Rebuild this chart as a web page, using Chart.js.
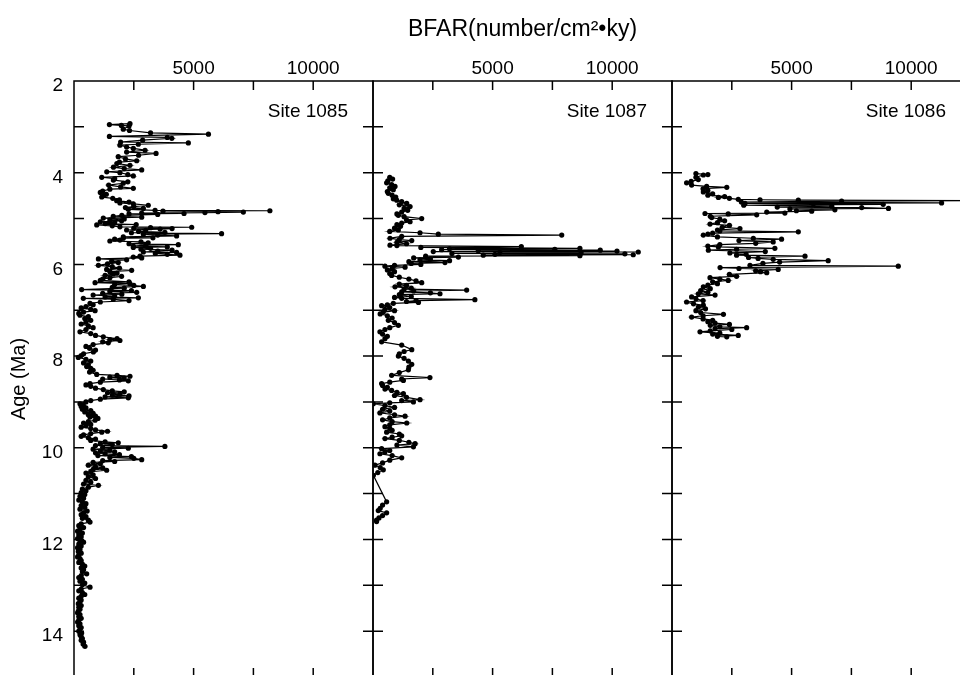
<!DOCTYPE html>
<html>
<head>
<meta charset="utf-8">
<title>BFAR by site</title>
<script src="https://cdn.jsdelivr.net/npm/chart.js@4.4.0/dist/chart.umd.min.js"></script>
<style>
  html, body { margin: 0; padding: 0; background: #fff; overflow: hidden; }
  body { width: 960px; height: 675px; position: relative; }
  canvas { position: absolute; top: 0; }
</style>
</head>
<body>
<canvas id="chart1085" width="380" height="690" style="left:0px"></canvas>
<canvas id="chart1087" width="313" height="690" style="left:366px"></canvas>
<canvas id="chart1086" width="313" height="690" style="left:665px"></canvas>
<script>
// axis ranges and labelled ticks
const ageMin = 2, ageMax = 15;
const ageLabels = [2, 4, 6, 8, 10, 12, 14];
const bfarMin = 0, bfarMax = 12500;
const bfarLabels = [5000, 10000];
const siteNames = ["Site 1085", "Site 1087", "Site 1086"];

// Site 1085
const ages1085 = [
  2.93, 2.95, 2.97, 2.98, 3.05, 3.08, 3.13, 3.16, 3.21, 3.23,
  3.25, 3.29, 3.33, 3.35, 3.38, 3.40, 3.44, 3.47, 3.51, 3.55,
  3.58, 3.62, 3.65, 3.70, 3.74, 3.77, 3.80, 3.84, 3.88, 3.91,
  3.94, 3.98, 4.00, 4.04, 4.07,
  4.10, 4.13, 4.16, 4.20, 4.23, 4.27, 4.31, 4.34, 4.36, 4.40,
  4.43, 4.47, 4.50, 4.53, 4.56, 4.59, 4.61, 4.64, 4.66, 4.68,
  4.71, 4.74, 4.76, 4.78, 4.80,
  4.82, 4.83, 4.84, 4.85, 4.86, 4.87, 4.88, 4.89, 4.90, 4.91,
  4.93, 4.95, 4.97, 4.99, 5.01, 5.03, 5.05, 5.07, 5.09, 5.11,
  5.13, 5.14, 5.16, 5.18,
  5.19, 5.20, 5.21, 5.22, 5.23, 5.25, 5.26, 5.28, 5.30, 5.31,
  5.33, 5.34, 5.36, 5.38, 5.40, 5.42, 5.43, 5.45, 5.47, 5.49,
  5.51, 5.53, 5.55, 5.57, 5.58, 5.60, 5.62, 5.63, 5.65, 5.67,
  5.69, 5.71, 5.73, 5.74, 5.76, 5.78, 5.80, 5.82, 5.84, 5.86,
  5.88, 5.90,
  5.93, 5.96, 5.99, 6.02, 6.05, 6.08, 6.11, 6.13, 6.16, 6.19,
  6.21, 6.24, 6.26, 6.29, 6.32, 6.35, 6.38, 6.40, 6.42, 6.44,
  6.46, 6.48, 6.50, 6.52, 6.55, 6.57, 6.59, 6.61, 6.63, 6.65,
  6.67, 6.69, 6.71, 6.73, 6.74, 6.76, 6.79, 6.82, 6.85, 6.88,
  6.92, 6.95, 6.98, 7.01, 7.04, 7.07, 7.11, 7.14, 7.18, 7.22,
  7.26, 7.30, 7.34, 7.38, 7.42, 7.47, 7.51, 7.55, 7.58, 7.62,
  7.64, 7.66, 7.69, 7.71, 7.75, 7.79, 7.83, 7.87, 7.91, 7.95,
  7.99, 8.03,
  8.07, 8.11, 8.15, 8.19, 8.23, 8.27, 8.31, 8.35, 8.40, 8.42,
  8.44, 8.46, 8.48, 8.50, 8.52, 8.54, 8.57, 8.60, 8.63, 8.66,
  8.70, 8.73, 8.76, 8.78, 8.80, 8.83, 8.85, 8.87, 8.89, 8.91,
  8.94, 8.97, 9.00, 9.04, 9.07,
  9.10, 9.13, 9.16, 9.19, 9.22, 9.25, 9.28, 9.31, 9.33, 9.36,
  9.40, 9.43, 9.46, 9.49, 9.52, 9.55, 9.58, 9.61, 9.64, 9.66,
  9.69, 9.72, 9.75, 9.78, 9.81, 9.84, 9.87, 9.89, 9.91, 9.93,
  9.95, 9.97, 9.99, 10.01, 10.03, 10.05, 10.07, 10.09, 10.11, 10.13,
  10.15, 10.17, 10.19, 10.21, 10.23, 10.26, 10.28, 10.30, 10.32, 10.35,
  10.38, 10.41, 10.44, 10.47, 10.49, 10.52, 10.55,
  10.59, 10.63, 10.67, 10.71, 10.75, 10.79, 10.82, 10.86, 10.90, 10.94,
  10.98, 11.02, 11.06, 11.10, 11.14, 11.18, 11.22, 11.26, 11.30, 11.34,
  11.38, 11.42, 11.46, 11.50, 11.54, 11.58, 11.62, 11.66, 11.70, 11.74,
  11.78, 11.82, 11.86, 11.90, 11.94, 11.98, 12.02, 12.06, 12.10, 12.14,
  12.18, 12.22, 12.26, 12.30, 12.34, 12.38, 12.42, 12.46, 12.50, 12.54,
  12.58, 12.62, 12.66, 12.70, 12.75, 12.79, 12.83, 12.87, 12.91, 12.95,
  12.99, 13.04, 13.08, 13.12, 13.16, 13.20, 13.24, 13.28, 13.32, 13.36,
  13.40, 13.44, 13.48, 13.52, 13.56, 13.60, 13.64, 13.68, 13.72, 13.76,
  13.80, 13.84, 13.88, 13.92, 13.96, 14.00, 14.04, 14.08, 14.12, 14.16,
  14.20, 14.24, 14.28, 14.33
];
const bfar1085 = [
  2340, 1480, 1980, 2300, 2060, 2320, 3200, 5620, 1480, 3900,
  4090, 2870, 1950, 4780, 2690, 1920, 2200, 2480, 2970, 2200,
  3430, 2700, 1850, 2150, 2620, 1900, 1790, 2340, 1650, 2100,
  2830, 1370, 1920, 2250, 2480,
  1160, 1700, 1645, 2250, 2060, 1450, 1950, 2480, 1500, 1200,
  1100, 1350, 1250, 1160, 1620, 1900, 1785, 2300, 1920, 2480,
  3105, 2500, 2150, 2900, 2270,
  3390, 8190, 3720, 6020, 7080, 5475, 2830, 4600, 2300, 3500,
  2000, 1640, 2830, 1225, 2100, 1500, 1990, 1100, 1700, 1300,
  2600, 950, 1600, 1920,
  4920, 3200, 2500, 4100, 3600, 2200, 3000, 2700, 3800, 2400,
  6170, 2900, 3500, 4290, 2060, 3300, 2060, 1700, 1920, 1500,
  2800, 3100, 2300, 4360, 3000, 2480, 3900, 2480, 3200, 2800,
  4100, 3500, 2900, 4290, 3400, 3900, 4430, 2760, 2480, 2830,
  1020, 2200,
  1575, 1850, 1400, 1020, 1600, 1900, 1365, 2410, 1500, 1800,
  1645, 1300, 1990, 1500, 1200, 1100, 2300, 880, 2340, 1700,
  2500, 2900, 1600, 2100, 320, 2400, 1500, 2620, 1200, 2000,
  800, 1700, 1300, 2690, 390, 1645, 2300, 1100, 670, 800,
  500, 300, 700, 880, 400, 200, 250, 600, 450, 700,
  500, 300, 600, 800, 500, 250, 700, 900, 1225, 1800,
  1500, 1920, 1200, 1435, 800, 500, 650, 900, 810, 400,
  300, 180,
  500, 700, 400, 600, 530, 700, 800, 650, 950, 1800,
  2340, 1500, 2100, 1200, 1900, 2270, 1100, 670, 500, 700,
  900, 1225, 1600, 2100, 1400, 1920, 1600, 2300, 1300, 2270,
  1100, 700, 500, 250, 390,
  300, 500, 350, 700, 450, 800, 600, 900, 670, 1000,
  880, 600, 400, 700, 500, 300, 700, 900, 1400, 1160,
  700, 400, 300, 600, 900, 700, 1300, 1850, 1100, 1600,
  900, 3800, 1200, 2270, 800, 1500, 1100, 1700, 900, 1300,
  1900, 1000, 2400, 1500, 2500, 2830, 1200, 1700, 800, 1100,
  600, 900, 1200, 800, 1365, 700, 500,
  800, 600, 900, 500, 700, 400, 1020, 600, 350, 500,
  300, 450, 250, 400, 200, 350, 500, 300, 450, 250,
  550, 400, 300, 500, 350, 600, 670, 300, 200, 400,
  250, 150, 350, 200, 300, 150, 250, 400, 200, 300,
  150, 250, 180, 300, 200, 150, 250, 300, 200, 350,
  450, 300, 400, 350, 530, 300, 200, 350, 250, 450,
  350, 670, 300, 200, 350, 450, 300, 200, 300, 250,
  180, 300, 200, 250, 180, 150, 250, 200, 300, 200,
  150, 250, 200, 300, 250, 200, 320, 250, 300, 350,
  300, 400, 380, 460
];

// Site 1087
const ages1087 = [
  4.10, 4.14, 4.18, 4.22, 4.26, 4.30, 4.33, 4.37, 4.41, 4.45,
  4.49, 4.53, 4.57, 4.60, 4.63, 4.67, 4.70, 4.74, 4.78, 4.82,
  4.86, 4.90, 4.93, 4.96, 5.00, 5.03, 5.07, 5.10, 5.13, 5.17,
  5.21, 5.25, 5.28, 5.31, 5.34, 5.36, 5.39, 5.43, 5.46, 5.48,
  5.52, 5.55, 5.58, 5.59, 5.61, 5.63, 5.65, 5.66, 5.67, 5.68,
  5.69, 5.70, 5.71, 5.72, 5.73, 5.74, 5.75, 5.76, 5.77, 5.78,
  5.79, 5.80, 5.81, 5.82, 5.84, 5.86, 5.88, 5.90, 5.92, 5.94,
  5.96, 5.98, 6.00, 6.02, 6.04, 6.06, 6.09, 6.12, 6.16, 6.20,
  6.24, 6.28, 6.32, 6.36, 6.40, 6.43, 6.46, 6.49, 6.52, 6.54,
  6.56, 6.58, 6.60, 6.62, 6.64, 6.66, 6.67, 6.70, 6.72, 6.74,
  6.77, 6.79, 6.81, 6.83, 6.85, 6.88, 6.90, 6.94, 6.98, 7.01,
  7.04, 7.08, 7.12, 7.17, 7.22, 7.27, 7.33, 7.38, 7.42, 7.47,
  7.52, 7.57, 7.62, 7.69, 7.76, 7.86, 7.90, 7.95, 8.00, 8.05,
  8.11, 8.18, 8.24, 8.30, 8.36, 8.42, 8.47, 8.50, 8.53, 8.57,
  8.60, 8.64, 8.68, 8.72, 8.75, 8.79, 8.82, 8.86, 8.90, 8.95,
  8.97, 9.00, 9.02, 9.04, 9.08, 9.12, 9.16, 9.20, 9.24, 9.28,
  9.31, 9.35, 9.39, 9.43, 9.46, 9.50, 9.54, 9.58, 9.62, 9.66,
  9.70, 9.74, 9.77, 9.80, 9.84, 9.88, 9.91, 9.94, 9.98, 10.02,
  10.06, 10.09, 10.13, 10.17, 10.22, 10.27, 10.33, 10.38, 10.43, 10.48,
  10.54, 10.60, 11.18, 11.25, 11.32, 11.37, 11.42, 11.48, 11.53, 11.58,
  11.61
];
const bfar1087 = [
  700, 820, 620, 570, 780, 920, 700, 850, 600, 640,
  800, 950, 850, 990, 1200, 1410, 1100, 1550, 1300, 1450,
  1200, 1000, 1060, 1300, 2035, 1400, 1550, 1200, 1000, 1150,
  900, 1060, 700, 1965, 2730, 7890, 1200, 710, 1100, 1620,
  1000, 1400, 710, 1000, 6200, 2000, 8650, 3200, 7600, 2870,
  9500, 4400, 10200, 2520, 11090, 5300, 8700, 3300, 10530, 5100,
  10880, 4610, 8650, 2200, 3570, 1700, 2400, 1965, 3200, 1500,
  3010, 1600, 2000, 900, 500, 1340, 800, 600, 900, 700,
  780, 1100, 1500, 1800, 2035, 1100, 1400, 920, 1600, 1300,
  3915, 1700, 1200, 2400, 2800, 1100, 1130, 1600, 900, 1200,
  4260, 1800, 1400, 1900, 850, 600, 360, 700, 500, 900,
  430, 300, 600, 800, 640, 900, 1060, 700, 500, 290,
  400, 600, 500, 360, 1200, 1620, 1300, 1100, 1060, 1300,
  1480, 1620, 1500, 1480, 1100, 780, 2380, 1200, 1270, 700,
  360, 400, 600, 500, 780, 1000, 1270, 900, 1400, 1965,
  1200, 1690, 700, 10, 500, 900, 400, 700, 290, 900,
  1340, 700, 400, 800, 1410, 700, 500, 700, 800, 570,
  1100, 1200, 800, 500, 1100, 1500, 1760, 1000, 1690, 360,
  700, 500, 290, 800, 1200, 700, 400, 80, 300, 430,
  200, 15, 570, 400, 300, 220, 570, 400, 250, 150,
  150
];

// Site 1086
const ages1086 = [
  4.02, 4.04, 4.05, 4.10, 4.15, 4.19, 4.22, 4.27, 4.30, 4.32,
  4.35, 4.39, 4.42, 4.46, 4.49, 4.52, 4.54, 4.56, 4.58, 4.59,
  4.60, 4.61, 4.62, 4.64, 4.66, 4.67, 4.68, 4.69, 4.71, 4.73,
  4.75, 4.76, 4.78, 4.79, 4.81, 4.83, 4.84, 4.86, 4.88, 4.89,
  4.90, 4.92, 4.95, 4.98, 5.01, 5.05, 5.09, 5.12, 5.15, 5.19,
  5.22, 5.25, 5.27, 5.29, 5.32, 5.34, 5.36, 5.40, 5.43, 5.45,
  5.48, 5.51, 5.54, 5.57, 5.60, 5.62, 5.65, 5.67, 5.69, 5.72,
  5.75, 5.78, 5.80, 5.82, 5.85, 5.87, 5.89, 5.92, 5.95, 5.98,
  6.02, 6.04, 6.07, 6.09, 6.11, 6.14, 6.16, 6.18, 6.22, 6.26,
  6.29, 6.32, 6.35, 6.38, 6.42, 6.45, 6.49, 6.53, 6.57, 6.61,
  6.64, 6.67, 6.71, 6.75, 6.79, 6.82, 6.86, 6.89, 6.93, 6.97,
  7.01, 7.05, 7.09, 7.12, 7.15, 7.19, 7.22, 7.25, 7.28, 7.31,
  7.33, 7.36, 7.38, 7.40, 7.42, 7.45, 7.47, 7.50, 7.52, 7.55,
  7.57, 7.58
];
const bfar1086 = [
  1000, 1500, 1310, 1000, 1100, 800, 610, 820, 1450, 2290,
  1300, 1500, 1310, 1700, 1500, 2200, 1940, 2400, 2770, 3680,
  5280, 12800, 7090, 2900, 11270, 3050, 5910, 8830, 3000, 6680,
  4400, 7930, 9050, 4930, 6810, 5200, 5840, 3960, 4720, 1380,
  2350, 3540, 1600, 1660, 2000, 2200, 1900, 1590, 2400, 2100,
  2840, 1900, 2000, 5280, 1700, 1500, 1310, 1900, 3400, 4580,
  2800, 4230, 3500, 2000, 1500, 1940, 4300, 2700, 1520, 3900,
  2420, 3100, 2700, 5560, 3200, 3600, 4230, 6530, 4500, 3800,
  3260, 9460, 2010, 2800, 4440, 3500, 3700, 3960, 2400, 2700,
  1590, 2000, 2350, 1700, 1900, 1500, 1310, 1600, 1200, 1500,
  1100, 1800, 820, 1000, 1300, 610, 900, 1310, 1100, 1400,
  1000, 1200, 2150, 1300, 820, 1300, 1700, 1500, 1800, 2400,
  1600, 2000, 3120, 1800, 2500, 1600, 1170, 2000, 1700, 2770,
  1900, 2290
];

const FONT = "'Liberation Sans', Arial, Helvetica, sans-serif";

// frame, inward tick marks and the site name inside each panel
const siteFrame = {
  id: "siteFrame",
  afterDraw(chart, args, opts) {
    const { ctx, chartArea, scales } = chart;
    const { left, right, top, bottom } = chartArea;
    ctx.save();
    ctx.strokeStyle = "#000";
    ctx.lineWidth = 1.5;
    ctx.strokeRect(left, top, right - left, bottom - top);

    ctx.beginPath();
    scales.x.ticks.forEach((t) => {
      if (t.value <= bfarMin || t.value >= bfarMax) return;
      const px = scales.x.getPixelForValue(t.value);
      ctx.moveTo(px, top);
      ctx.lineTo(px, top + 9);
      ctx.moveTo(px, bottom);
      ctx.lineTo(px, bottom - 9);
    });
    scales.y.ticks.forEach((t) => {
      if (t.value <= ageMin || t.value >= ageMax) return;
      const py = scales.y.getPixelForValue(t.value);
      ctx.moveTo(left, py);
      ctx.lineTo(left + 10, py);
      ctx.moveTo(right, py);
      ctx.lineTo(right - 10, py);
    });
    ctx.stroke();

    ctx.fillStyle = "#000";
    ctx.font = "19px " + FONT;
    ctx.textAlign = "right";
    ctx.textBaseline = "alphabetic";
    ctx.fillText(opts.site, right - 25, top + 36);
    ctx.restore();
  },
};

const toPoints = (ages, values) => ages.map((a, i) => ({ x: values[i], y: a }));

// keep the plot box fixed: no extra room for edge labels
const fixBox = (s, w, h) => {
  if (w !== null) s.width = w;
  if (h !== null) s.height = h;
  s.paddingTop = 0;
  s.paddingBottom = 0;
  s.paddingLeft = 0;
  s.paddingRight = 0;
};

const makePanel = (canvasId, site, ages, values, first, xTitle) => {
  const context = document.getElementById(canvasId).getContext("2d");
  return new Chart(context, {
    type: "scatter",
    data: {
      datasets: [
        {
          label: site,
          data: toPoints(ages, values),
          showLine: true,
          borderColor: "#000",
          borderWidth: 1.2,
          pointRadius: 2.6,
          pointBackgroundColor: "#000",
          pointBorderWidth: 0,
        },
      ],
    },
    options: {
      responsive: false,
      animation: false,
      events: [],
      layout: { padding: { left: first ? 0 : 7, right: 7, top: 0, bottom: 13 } },
      plugins: {
        legend: { display: false },
        tooltip: { enabled: false },
        siteFrame: { site: site },
      },
      scales: {
        x: {
          type: "linear",
          position: "top",
          min: bfarMin,
          max: bfarMax,
          grid: { display: false, drawTicks: false },
          border: { display: false },
          ticks: {
            stepSize: 2500,
            padding: 1,
            autoSkip: false,
            maxRotation: 0,
            color: "#000",
            font: { family: FONT, size: 19 },
            callback: (v) => (bfarLabels.includes(v) ? String(v) : ""),
          },
          title: {
            display: !!xTitle,
            text: xTitle || "",
            color: "#000",
            font: { family: FONT, size: 23 },
            padding: { top: 16, bottom: 0 },
          },
          afterFit: (s) => fixBox(s, null, 81),
        },
        y: {
          type: "linear",
          reverse: true,
          min: ageMin,
          max: ageMax,
          grid: { display: false, drawTicks: false },
          border: { display: false },
          ticks: {
            display: first,
            stepSize: 1,
            padding: 11,
            labelOffset: 5,
            autoSkip: false,
            color: "#000",
            font: { family: FONT, size: 19 },
            callback: (v) => (ageLabels.includes(v) ? String(v) : ""),
          },
          title: {
            display: first,
            text: "Age (Ma)",
            color: "#000",
            font: { family: FONT, size: 20 },
            padding: { top: 7, bottom: 0 },
          },
          afterFit: (s) => fixBox(s, first ? 74 : 0, null),
        },
      },
    },
    plugins: [siteFrame],
  });
};

const chart1085 = makePanel("chart1085", siteNames[0], ages1085, bfar1085, true, null);
const chart1087 = makePanel("chart1087", siteNames[1], ages1087, bfar1087, false, "BFAR(number/cm\u00B2\u2022ky)");
const chart1086 = makePanel("chart1086", siteNames[2], ages1086, bfar1086, false, null);
</script>
</body>
</html>
